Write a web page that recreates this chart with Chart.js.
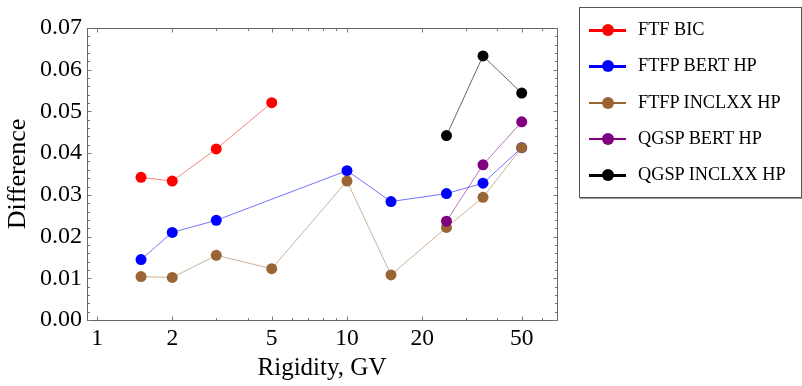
<!DOCTYPE html>
<html>
<head>
<meta charset="utf-8">
<script src="https://cdn.jsdelivr.net/npm/chart.js@4/dist/chart.umd.min.js"></script>
<style>
  html, body { margin: 0; padding: 0; background: #fff; }
  #wrap { position: relative; width: 802px; height: 386px; }
  #legend {
    position: absolute; left: 579px; top: 7px; width: 221px; height: 189px;
    border: 1px solid #555; box-shadow: 1px 1px 0 #999; background: #fff;
    font-family: "Liberation Serif", "Times New Roman", serif; font-size: 18.3px; color: #000;
  }
  .item { position: absolute; left: 0; height: 24px; width: 220px; }
  .line { position: absolute; left: 9px; top: 11px; width: 37px; height: 2.5px; }
  .dot { position: absolute; left: 22px; top: 6px; width: 12px; height: 12px; border-radius: 50%; }
  .lbl { position: absolute; left: 58px; top: 1px; white-space: nowrap; }
</style>
</head>
<body>
<div id="wrap">
  <canvas id="c" width="802" height="386"></canvas>
  <div id="legend"></div>
</div>
<script>
// ---- Data ----
const seriesNames = ["FTF BIC", "FTFP BERT HP", "FTFP INCLXX HP", "QGSP BERT HP", "QGSP INCLXX HP"];
const ftfBicX = [1.5, 2, 3, 5];
const ftfBicY = [0.0342, 0.0333, 0.0410, 0.0521];
const ftfpBertX = [1.5, 2, 3, 10, 15, 25, 35, 50];
const ftfpBertY = [0.0145, 0.0210, 0.0239, 0.0358, 0.0284, 0.0303, 0.0328, 0.0413];
const ftfpInclxxX = [1.5, 2, 3, 5, 10, 15, 25, 35, 50];
const ftfpInclxxY = [0.0104, 0.0102, 0.0155, 0.0123, 0.0333, 0.0108, 0.0222, 0.0294, 0.0413];
const qgspBertX = [25, 35, 50];
const qgspBertY = [0.0237, 0.0372, 0.0475];
const qgspInclxxX = [25, 35, 50];
const qgspInclxxY = [0.0442, 0.0633, 0.0544];

const xTickLabels = [1, 2, 5, 10, 20, 50];
const xMinorTicks = [3, 4, 6, 7, 8, 9, 30, 40, 60];
const yTickLabels = [0, 0.01, 0.02, 0.03, 0.04, 0.05, 0.06, 0.07];

const pointColors = ["#ff0000", "#0000ff", "#996633", "#800080", "#000000"];
const lineColors = ["rgba(255,0,0,0.5)", "rgba(0,0,255,0.55)", "rgba(153,102,51,0.5)", "rgba(128,0,128,0.55)", "rgba(0,0,0,0.6)"];

const xs = [ftfBicX, ftfpBertX, ftfpInclxxX, qgspBertX, qgspInclxxX];
const ys = [ftfBicY, ftfpBertY, ftfpInclxxY, qgspBertY, qgspInclxxY];

const datasets = seriesNames.map((name, i) => ({
  label: name,
  data: xs[i].map((x, j) => ({ x: x, y: ys[i][j] })),
  showLine: true,
  borderColor: lineColors[i],
  borderWidth: 1,
  pointBackgroundColor: pointColors[i],
  pointBorderColor: pointColors[i],
  pointBorderWidth: 0,
  pointRadius: 5.5,
  pointHoverRadius: 5.5,
  order: 5 - i
}));

// ---- Frame + inward tick marks ----
const framePlugin = {
  id: 'frame',
  afterDatasetsDraw(chart) {
    const { ctx, chartArea: a, scales: { x, y } } = chart;
    ctx.save();
    ctx.strokeStyle = '#666';
    ctx.lineWidth = 1;
    const L = Math.round(a.left) + 0.5, R = Math.round(a.right) + 0.5, T = Math.round(a.top) + 0.5, B = Math.round(a.bottom) + 0.5;
    ctx.strokeRect(L, T, R - L, B - T);
    ctx.strokeStyle = '#777';
    ctx.beginPath();
    const xt = (v, len) => {
      const px = Math.round(x.getPixelForValue(v)) + 0.5;
      if (px < L || px > R) return;
      ctx.moveTo(px, B); ctx.lineTo(px, B - len);
      ctx.moveTo(px, T); ctx.lineTo(px, T + len);
    };
    xTickLabels.forEach(v => xt(v, 4));
    xMinorTicks.forEach(v => xt(v, 2.5));
    const yt = (v, len) => {
      const py = Math.round(y.getPixelForValue(v)) + 0.5;
      ctx.moveTo(L, py); ctx.lineTo(L + len, py);
      ctx.moveTo(R, py); ctx.lineTo(R - len, py);
    };
    for (let k = 0; k <= 35; k++) {
      const v = k * 0.002;
      yt(v, k % 5 === 0 ? 4 : 2.5);
    }
    ctx.stroke();
    ctx.restore();
  }
};

const serif = "'Liberation Serif', 'Times New Roman', serif";

new Chart(document.getElementById('c'), {
  type: 'scatter',
  data: { datasets },
  options: {
    responsive: false,
    animation: false,
    events: [],
    layout: { padding: { left: 0, top: 28, right: 245, bottom: 0 } },
    plugins: { legend: { display: false }, tooltip: { enabled: false } },
    scales: {
      x: {
        type: 'logarithmic',
        min: 0.912,
        max: 69.2,
        grid: { display: false, drawTicks: false },
        border: { display: false },
        afterBuildTicks: (s) => { s.ticks = xTickLabels.map(v => ({ value: v })); },
        afterFit: (s) => { s.height = 66; },
        ticks: {
          autoSkip: false, maxRotation: 0, padding: 5,
          color: '#000', font: { family: serif, size: 23.5 },
          callback: (v) => String(v)
        },
        title: { display: true, text: 'Rigidity, GV', color: '#000', font: { family: serif, size: 25 }, padding: { top: 0, bottom: 3 } }
      },
      y: {
        min: 0,
        max: 0.07,
        grid: { display: false, drawTicks: false },
        border: { display: false },
        afterBuildTicks: (s) => { s.ticks = yTickLabels.map(v => ({ value: v })); },
        afterFit: (s) => { s.width = 87; },
        ticks: {
          padding: 5, color: '#000', font: { family: serif, size: 24 },
          callback: (v) => Number(v).toFixed(2)
        },
        title: { display: true, text: 'Difference', color: '#000', font: { family: serif, size: 26 }, padding: { top: 3, bottom: 0 } }
      }
    }
  },
  plugins: [framePlugin]
});

// ---- Legend ----
const legend = document.getElementById('legend');
seriesNames.forEach((name, i) => {
  const it = document.createElement('div');
  it.className = 'item';
  it.style.top = (10 + i * 36.3) + 'px';
  it.innerHTML = '<div class="line" style="background:' + pointColors[i] + '"></div>' +
    '<div class="dot" style="background:' + pointColors[i] + '"></div>' +
    '<div class="lbl">' + name + '</div>';
  legend.appendChild(it);
});
</script>
</body>
</html>
